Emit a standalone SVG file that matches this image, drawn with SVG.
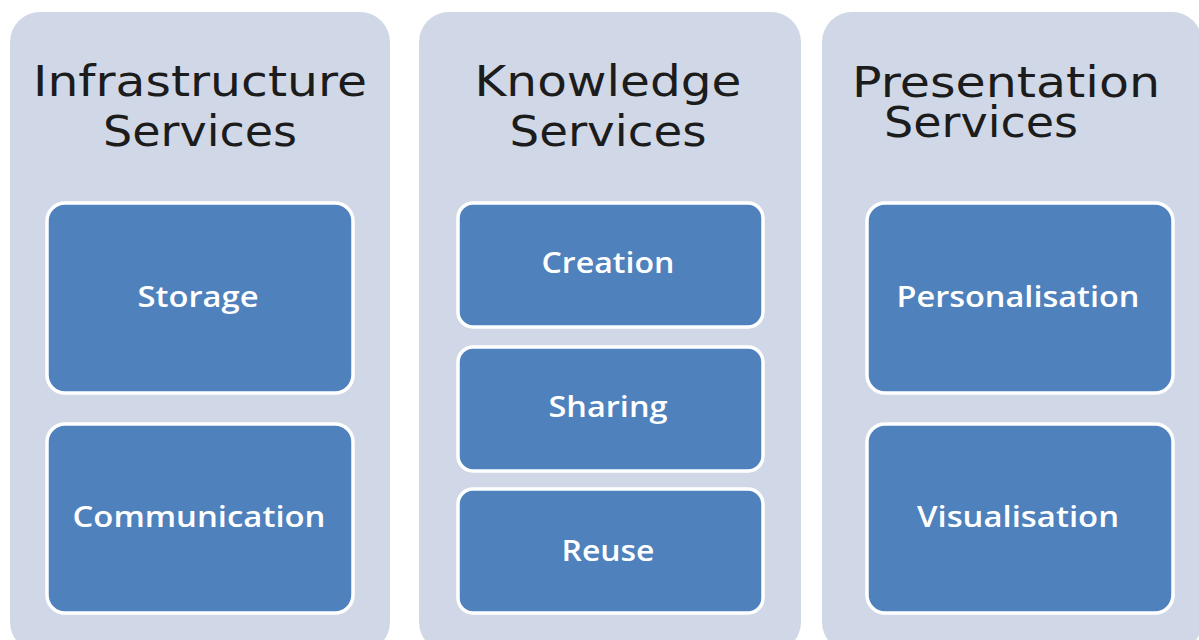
<svg xmlns="http://www.w3.org/2000/svg" width="1199" height="640" viewBox="0 0 1199 640">
<style>
.col{fill:#d0d8e8;}
.box{fill:#4f81bd;stroke:#ffffff;stroke-width:3.5;}
.title{font-family:"DejaVu Sans",Verdana,sans-serif;font-size:42px;fill:#1c1c1c;text-anchor:middle;}
.lbl{font-family:"Open Sans","Liberation Sans",sans-serif;font-weight:600;font-size:28px;fill:#ffffff;text-anchor:middle;}
</style>
<rect width="1199" height="640" fill="#ffffff"/>
<g id="infrastructure">
<rect class="col" x="10" y="12" width="380" height="640" rx="30"/>
<text class="title" x="200" y="96" textLength="334" lengthAdjust="spacingAndGlyphs">Infrastructure</text>
<text class="title" x="200" y="146" textLength="194" lengthAdjust="spacingAndGlyphs">Services</text>
</g>
<g id="storage">
<rect class="box" x="47" y="203" width="306" height="190" rx="18"/>
<text class="lbl" x="198" y="307" textLength="121" lengthAdjust="spacingAndGlyphs">Storage</text>
</g>
<g id="communication">
<rect class="box" x="47" y="424" width="306" height="189" rx="18"/>
<text class="lbl" x="199" y="527" textLength="253" lengthAdjust="spacingAndGlyphs">Communication</text>
</g>
<g id="knowledge">
<rect class="col" x="419" y="12" width="382" height="640" rx="30"/>
<text class="title" x="608" y="96" textLength="267" lengthAdjust="spacingAndGlyphs">Knowledge</text>
<text class="title" x="608" y="146" textLength="197" lengthAdjust="spacingAndGlyphs">Services</text>
</g>
<g id="creation">
<rect class="box" x="458" y="203" width="305" height="124" rx="15"/>
<text class="lbl" x="608" y="273" textLength="133" lengthAdjust="spacingAndGlyphs">Creation</text>
</g>
<g id="sharing">
<rect class="box" x="458" y="347" width="305" height="124" rx="15"/>
<text class="lbl" x="608" y="417" textLength="119" lengthAdjust="spacingAndGlyphs">Sharing</text>
</g>
<g id="reuse">
<rect class="box" x="458" y="489" width="305" height="124" rx="15"/>
<text class="lbl" x="608" y="561" textLength="93" lengthAdjust="spacingAndGlyphs">Reuse</text>
</g>
<g id="presentation">
<rect class="col" x="822" y="12" width="380" height="640" rx="30"/>
<text class="title" x="1006" y="97" textLength="308" lengthAdjust="spacingAndGlyphs">Presentation</text>
<text class="title" x="981" y="137" textLength="194" lengthAdjust="spacingAndGlyphs">Services</text>
</g>
<g id="personalisation">
<rect class="box" x="867" y="203" width="306" height="190" rx="18"/>
<text class="lbl" x="1018" y="307" textLength="243" lengthAdjust="spacingAndGlyphs">Personalisation</text>
</g>
<g id="visualisation">
<rect class="box" x="867" y="424" width="306" height="189" rx="18"/>
<text class="lbl" x="1018" y="527" textLength="202" lengthAdjust="spacingAndGlyphs">Visualisation</text>
</g>
<g id="connectors"></g>
</svg>
